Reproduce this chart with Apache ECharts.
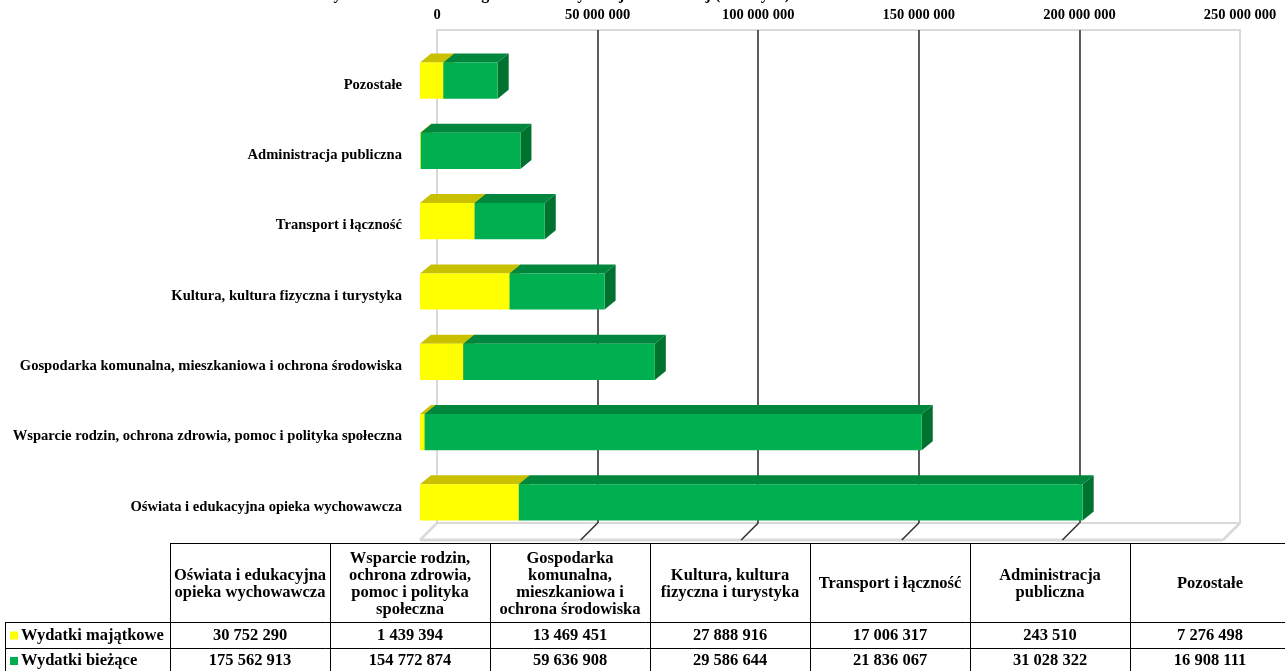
<!DOCTYPE html>
<html><head><meta charset="utf-8">
<script src="https://cdn.jsdelivr.net/npm/echarts@6/dist/echarts.min.js"></script>
<style>html,body{margin:0;padding:0;background:#fff}#c{width:1285px;height:671px}</style>
</head><body><div id="c"></div>
<script>
const categories = ['Oświata i edukacyjna opieka wychowawcza', 'Wsparcie rodzin, ochrona zdrowia, pomoc i polityka społeczna', 'Gospodarka komunalna, mieszkaniowa i ochrona środowiska', 'Kultura, kultura fizyczna i turystyka', 'Transport i łączność', 'Administracja publiczna', 'Pozostałe'];
const tableHeaders = ['Oświata i edukacyjna\nopieka wychowawcza', 'Wsparcie rodzin,\nochrona zdrowia,\npomoc i polityka\nspołeczna', 'Gospodarka\nkomunalna,\nmieszkaniowa i\nochrona środowiska', 'Kultura, kultura\nfizyczna i turystyka', 'Transport i łączność', 'Administracja\npubliczna', 'Pozostałe'];
const seriesNames = ['Wydatki majątkowe', 'Wydatki bieżące'];
const majatkowe = [30752290, 1439394, 13469451, 27888916, 17006317, 243510, 7276498];
const biezace = [175562913, 154772874, 59636908, 29586644, 21836067, 31028322, 16908111];
const xTicks = [0, 50000000, 100000000, 150000000, 200000000, 250000000];
const titleText = 'Wydatki budżetu według działów klasyfikacji budżetowej (w złotych)';

const FONT = '"Liberation Serif", "Times New Roman", serif';
const DX = 11, DY = 9;
const FDX = 17, FDY = 17;
const BAR_SHIFT = -4.5;
const colors = [
  {front: '#FFFF00', top: '#C8C000', side: '#A8A000'},
  {front: '#00B050', top: '#00863D', side: '#00722F'}
];
function fmt(v) { return String(v).replace(/\B(?=(\d{3})+(?!\d))/g, ' '); }

function render3D(c) {
  return function (params, api) {
    const a = api.coord([api.value(0), api.value(2)]);
    const b = api.coord([api.value(1), api.value(2)]);
    const h = api.size([0, 1])[1] * 0.515;
    const cy = a[1] + BAR_SHIFT;
    const y0 = cy - h / 2, y1 = cy + h / 2;
    const x0 = a[0], x1 = b[0];
    return {type: 'group', children: [
      {type: 'polygon', shape: {points: [[x0, y0], [x0 + DX, y0 - DY], [x1 + DX, y0 - DY], [x1, y0]]}, style: {fill: c.top}},
      {type: 'polygon', shape: {points: [[x1, y0], [x1 + DX, y0 - DY], [x1 + DX, y1 - DY], [x1, y1]]}, style: {fill: c.side}},
      {type: 'rect', shape: {x: x0, y: y0, width: x1 - x0, height: h}, style: {fill: c.front}}
    ]};
  };
}

const seriesValues = [majatkowe, biezace];
const bars = seriesValues.map((vals, s) => ({
  type: 'custom', name: seriesNames[s], xAxisIndex: 1, yAxisIndex: 1,
  renderItem: render3D(colors[s]),
  encode: {x: [0, 1], y: 2},
  data: vals.map((v, i) => {
    const base = s === 0 ? 0 : majatkowe[i];
    return [base, base + v, i];
  }),
  z: 5
}));

const floor = {
  type: 'custom', xAxisIndex: 0, yAxisIndex: 0, silent: true,
  encode: {x: 0, y: 1},
  data: xTicks.map(v => [v, 0]),
  renderItem: function (params, api) {
    const p = api.coord([api.value(0), 0]);
    const last = params.dataIndex === 0 || params.dataIndex === xTicks.length - 1;
    const children = [{type: 'line', shape: {x1: p[0], y1: p[1], x2: p[0] - FDX, y2: p[1] + FDY},
      style: {stroke: last ? '#d9d9d9' : '#333333', lineWidth: last ? 2.5 : 1.6}}];
    if (params.dataIndex === 0) {
      const q = api.coord([xTicks[xTicks.length - 1], 0]);
      children.push({type: 'line', shape: {x1: p[0] - FDX, y1: p[1] + FDY, x2: q[0] - FDX, y2: q[1] + FDY},
        style: {stroke: '#d9d9d9', lineWidth: 3}});
    }
    return {type: 'group', children: children};
  },
  z: 1
};

// table
const TFONT = 'bold 16.5px ' + FONT;
const colX = [170, 330, 490, 650, 810, 970, 1130, 1290];
const tbl = [];
const lineStyle = {stroke: '#000', lineWidth: 1};
tbl.push({type: 'line', shape: {x1: 170, y1: 543.5, x2: 1290, y2: 543.5}, style: lineStyle});
tbl.push({type: 'line', shape: {x1: 5, y1: 622.5, x2: 1290, y2: 622.5}, style: lineStyle});
tbl.push({type: 'line', shape: {x1: 5, y1: 648.5, x2: 1290, y2: 648.5}, style: lineStyle});
tbl.push({type: 'line', shape: {x1: 5.5, y1: 622, x2: 5.5, y2: 680}, style: lineStyle});
colX.forEach(x => tbl.push({type: 'line', shape: {x1: x + 0.5, y1: 543, x2: x + 0.5, y2: 680}, style: lineStyle}));
tableHeaders.forEach((t, i) => {
  tbl.push({type: 'text', style: {text: t, x: colX[i] + 80, y: 584, textAlign: 'center', textVerticalAlign: 'middle',
    font: TFONT, lineHeight: 17, fill: '#000'}});
  tbl.push({type: 'text', style: {text: fmt(majatkowe[i]), x: colX[i] + 80, y: 635.5, textAlign: 'center', textVerticalAlign: 'middle',
    font: TFONT, fill: '#000'}});
  tbl.push({type: 'text', style: {text: fmt(biezace[i]), x: colX[i] + 80, y: 661, textAlign: 'center', textVerticalAlign: 'middle',
    font: TFONT, fill: '#000'}});
});
seriesNames.forEach((n, s) => {
  const cy = s === 0 ? 635.5 : 661;
  tbl.push({type: 'rect', shape: {x: 10, y: cy - 4, width: 8, height: 8}, style: {fill: colors[s].front}});
  tbl.push({type: 'text', style: {text: n, x: 21, y: cy, textAlign: 'left', textVerticalAlign: 'middle',
    font: TFONT, fill: '#000'}});
});
tbl.push({type: 'text', style: {text: titleText, x: 790, y: 3, textAlign: 'right', textVerticalAlign: 'bottom',
  font: 'bold 16px ' + FONT, fill: '#000'}});

const chart = echarts.init(document.getElementById('c'), null, {renderer: 'canvas'});
chart.setOption({
  animation: false,
  backgroundColor: '#fff',
  grid: [
    {left: 437, width: 803, top: 30, height: 493, show: true, borderColor: '#d9d9d9', borderWidth: 2, backgroundColor: 'transparent'},
    {left: 420, width: 803, top: 50, height: 492}
  ],
  xAxis: [
    {gridIndex: 0, type: 'value', position: 'top', min: 0, max: 250000000, interval: 50000000,
      axisLine: {show: false}, axisTick: {show: false},
      axisLabel: {fontFamily: FONT, fontWeight: 'bold', fontSize: 14.5, color: '#000', margin: 7, formatter: fmt},
      splitLine: {show: true, lineStyle: {color: ['#d9d9d9', '#333333', '#333333', '#333333', '#333333', '#d9d9d9'], width: 1.6}}},
    {gridIndex: 1, type: 'value', min: 0, max: 250000000, show: false}
  ],
  yAxis: [
    {gridIndex: 0, type: 'value', min: 0, max: 1, show: false},
    {gridIndex: 1, type: 'category', data: categories, axisLine: {show: false}, axisTick: {show: false},
      axisLabel: {fontFamily: FONT, fontWeight: 'bold', fontSize: 14.6, color: '#000', margin: 18}}
  ],
  graphic: tbl,
  series: [floor].concat(bars)
});
</script></body></html>
